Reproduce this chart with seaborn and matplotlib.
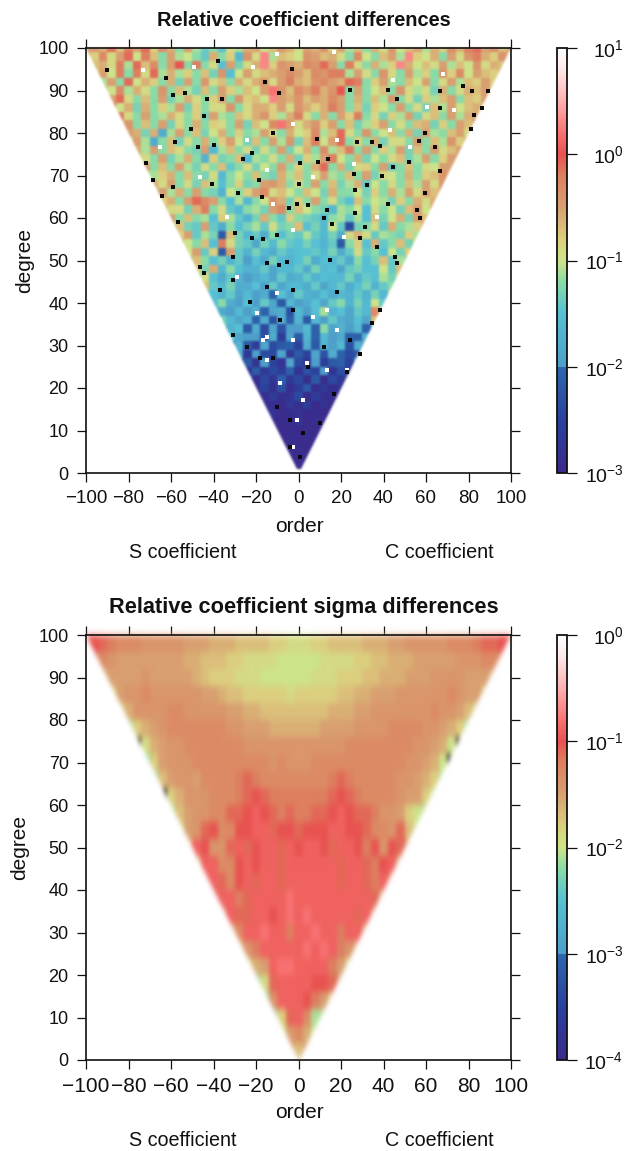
import math
import numpy as np
import pandas as pd
import matplotlib
matplotlib.use("Agg")
import matplotlib.pyplot as plt
from matplotlib.colors import LinearSegmentedColormap, LogNorm
from matplotlib.patches import Polygon
import seaborn as sns

# Values are log10 x 10, read per block of the triangle; the middle of each row is order 0.
TOP_DEGREES = list(range(100, 0, -2))
TOP_LOG10 = [
[-5,-4,-6,-1,-7,-2,-5,-1,-8,-3,-6,-12,-4,-11,-14,-12,-15,-9,-11,-6,-5,-10,-7,-4,-6,-9,-5,-6,-3,-8,-5,-11,-7,-12,-6,-9,-4,-10,-7,-5,-11,-6,-8,-3,-6,-2,-1,-5,-3,-7,-4],
[-6,-8,-3,-9,-5,-1,-10,-2,-7,-12,-5,-11,-10,-12,-14,-6,-12,-8,-16,-4,-9,3,-11,-7,-8,-10,-4,-5,-7,-6,-9,-12,-3,-10,-12,-7,-5,-11,3,-8,-10,-6,-12,-5,-9,-4,-2,-6,-8,-4,-7],
[-7,-6,-9,-2,-11,-1,-7,-3,-12,-5,0,-12,-2,-12,-9,-15,-5,-13,-9,-6,3,-8,-4,-5,-6,-3,-4,-1,-5,-12,-2,-9,-12,-6,-11,-8,3,-6,-10,-7,-9,-5,-11,-7,-10,-4,-9,-6,-7],
[-8,-5,-10,-2,-12,-2,-9,-1,-11,-6,-11,-8,-12,-7,-13,-4,-15,-10,-5,-9,-7,-6,-5,-3,-5,-7,-3,-4,-2,-2,-11,-5,-9,-12,-4,-9,-12,-5,-11,-8,-12,-4,-8,-3,-10,-5,-7,-8,-6],
[-11,-5,-12,-1,-10,-6,-8,-12,-6,-13,-5,-12,-4,-9,-7,-12,-6,-9,-6,-4,-9,-5,-2,-6,-7,-4,-3,-5,-6,-1,-2,-12,-8,-5,-11,-12,-7,-10,-5,-12,-9,-5,-11,-7,-8,-5,-8],
[-6,-10,-3,-11,-6,-9,-12,-4,-12,-7,-11,-13,-7,-12,-5,-8,-11,-7,-10,-5,2,-4,-7,-3,-5,-2,-6,-4,0,-12,-5,-12,-10,-7,-12,-4,-9,-11,-9,-13,-6,-12,-9,-6,-7,-5,-8],
[-5,-1,-9,-12,-7,-12,-5,-13,-11,-6,-9,-12,-8,-5,-12,-4,-8,-7,-10,3,-5,-6,-4,-7,-5,-6,-3,-5,-12,-6,-12,-7,-11,-4,-12,-9,-13,-8,-11,-7,-5,-12,-7,-8,-5],
[-1,-10,-6,-13,-6,-12,-8,-11,-5,-13,-8,-12,-9,-9,-4,-12,-9,-6,-6,-8,-5,-9,-4,-6,-8,-6,-2,-5,-12,-7,-13,-8,-10,-12,-5,-12,-9,-13,-7,-11,-5,-10,-7,-6,-8],
[-2,-9,-12,-5,-12,-11,-6,-9,-12,-8,-13,-5,-11,-12,-7,-9,-6,-4,-8,-11,-6,-2,-9,-12,-6,-12,-5,-8,-2,-12,-9,-13,-8,-11,-5,-13,-9,-7,-12,-5,-11,-6,-5],
[-7,-4,-12,-7,-12,-5,-13,-9,-12,-6,-12,-8,-9,-12,-5,-13,-7,-10,-3,2,-5,-9,-6,-4,-8,-5,-12,-7,-13,-11,-8,-5,-12,-9,-12,-7,-6,-13,-8,-12,-5,-7,-3],
[-5,-6,-13,-6,-18,-11,-5,-12,-7,-13,-10,-6,-12,-8,-12,-11,-5,-9,-12,-6,-10,-8,-3,-11,-7,-1,-9,-12,-4,-12,-10,-7,-12,-6,-13,-5,-11,-12,-7,-5,-9],
[-9,-5,-11,-18,-12,-7,-13,-9,-12,-6,-12,-8,-5,-10,-13,-7,-12,-5,-11,-4,-13,-7,-2,-10,-5,-1,-12,-8,-12,-6,-13,-9,-9,-12,-5,-12,-7,-11,-4,-8,-6],
[-6,-11,-5,-12,-7,-9,-12,-13,-5,-16,-11,-7,-12,-9,-13,-9,-12,-5,-13,-10,-6,-12,-3,-11,-7,-2,-12,-5,-12,-8,-11,-5,-13,-7,-12,-5,-9,-7,-5],
[-7,-9,-12,-5,-13,-11,-6,-12,-17,-8,-13,-12,-7,-16,-11,-12,-9,-12,-6,-13,-8,-11,-5,-2,-10,-12,-6,-13,-10,-12,-9,-7,-13,-11,-5,-12,-8,-5,-4],
[-5,-12,-7,-12,-5,-11,-13,-9,-12,-7,-14,-12,-9,-13,-10,-12,-5,-12,-8,-12,-6,-1,-12,-6,-13,-9,-8,-12,-5,-14,-12,-7,-12,-9,-10,-5,-5],
[-9,-11,-8,-6,-12,-7,-12,-13,-9,-16,-12,-10,-12,-7,-12,-13,-6,-11,-7,-12,-9,-5,-11,-12,-7,-12,-5,-13,-9,-10,-12,-6,-12,-8,-7,-4,-6],
[-6,-9,-5,-12,-9,-13,-7,-11,-15,-12,-8,-13,-12,-5,-4,-6,-12,-9,-12,-5,-12,-7,-13,-11,-6,-14,-10,-12,-9,-12,-7,-11,-5,-9,-4],
[-9,-5,-11,-6,-12,-5,-12,-13,-17,-10,-12,-8,-5,-3,-9,-7,-10,-12,-7,-10,-13,-6,-12,-12,-10,-13,-8,-12,-6,-11,-5,-9,-5,-7,-5],
[-8,-6,-12,-5,-1,-3,-5,-12,-15,-11,-16,-12,-10,-4,-6,-13,-8,-12,-5,-12,-9,-13,-15,-7,-12,-10,-11,-13,-8,-12,-6,-9,-6],
[-6,-9,-9,-13,-6,-2,-12,-9,-14,-16,-12,-11,-13,-5,-3,-12,-7,-10,-12,-13,-16,-11,-12,-10,-15,-9,-12,-10,-13,-7,-5,-10,-6],
[-5,-12,-7,-12,-11,-15,-8,-11,-14,-17,-13,-6,-12,-14,-8,-12,-13,-14,-16,-12,-11,-14,-11,-15,-7,-13,-10,-6,-13,-5,-7],
[-9,-7,-13,-14,-5,-14,-18,-12,-15,-13,-11,-14,-9,-13,-12,-7,-15,-13,-16,-10,-14,-24,-13,-12,-9,-14,-6,-12,-11,-8,-5],
[-8,-5,-14,-11,-13,-22,-7,-13,-16,-14,-18,-12,-15,-13,-14,-11,-14,-16,-13,-18,-9,-6,-9,-14,-11,-12,-13,-8,-11],
[-6,-10,-12,-7,-15,-2,-9,-13,-14,-19,-13,-16,-12,-14,-15,-13,-15,-17,-14,-22,-12,-8,-15,-6,-14,-12,-7,-13,-9],
[-10,-5,-14,-8,-22,-5,-14,-17,-13,-16,-18,-14,-16,-15,-15,-14,-16,-13,-18,-14,-9,-14,-12,-15,-10,-13,-8],
[-12,-7,-12,-15,-13,-17,-14,-20,-15,-18,-13,-16,-17,-15,-13,-18,-15,-16,-14,-18,-12,-15,-13,-7,-14,-11,-13],
[-8,-13,-6,-16,-12,-15,-17,-17,-14,-19,-16,-16,-14,-18,-13,-16,-15,-19,-14,-13,-15,-15,-10,-14,-7],
[-12,-9,-15,-18,-14,-17,-20,-18,-16,-19,-14,-18,-17,-14,-17,-15,-16,-16,-13,-17,-14,-15,-11,-13,-9],
[-7,-14,-16,-13,-18,-18,-15,-20,-14,-19,-16,-16,-18,-14,-19,-16,-14,-18,-15,-13,-17,-14,-12],
[-13,-15,-17,-14,-19,-16,-20,-18,-21,-15,-19,-14,-17,-18,-15,-18,-16,-17,-14,-17,-13,-16,-9],
[-15,-12,-18,-20,-15,-20,-14,-19,-22,-16,-20,-18,-15,-19,-14,-12,-17,-13,-16,-10,-14],
[-14,-18,-20,-16,-20,-17,-21,-19,-18,-23,-16,-20,-15,-11,-17,-15,-19,-14,-16,-3,-9],
[-13,-16,-19,-17,-21,-18,-23,-18,-21,-17,-22,-16,-20,-14,-18,-19,-15,-19,-7],
[-12,-17,-15,-22,-18,-24,-19,-23,-20,-20,-16,-21,-12,-19,-17,-20,-16,-21,-14],
[-15,-19,-20,-20,-23,-18,-26,-19,-22,-17,-21,-16,-20,-18,-21,-21,-17],
[-21,-17,-22,-26,-19,-24,-22,-21,-25,-18,-22,-17,-20,-16,-23,-18,-20],
[-19,-27,-20,-24,-24,-19,-27,-22,-25,-19,-23,-18,-21,-24,-22],
[-25,-22,-28,-20,-25,-28,-19,-24,-27,-20,-26,-22,-21,-25,-20],
[-28,-22,-27,-24,-26,-21,-28,-23,-25,-20,-28,-23,-27],
[-21,-29,-24,-28,-21,-27,-24,-29,-22,-29,-24,-27,-22],
[-29,-25,-29,-23,-29,-26,-22,-29,-27,-29,-28],
[-28,-29,-26,-29,-28,-24,-30,-26,-29,-29,-29],
[-29,-29,-30,-27,-29,-26,-30,-28,-30],
[-30,-28,-30,-29,-28,-30,-29,-30,-30],
[-30,-29,-30,-28,-30,-29,-30],
[-30,-30,-29,-30,-29,-30,-30],
[-30,-29,-30,-29,-30],
[-30,-30,-29,-30,-30],
[-30,-30,-30],
[-30,-30,-30],
]

# Isolated very small coefficients (below the scale, black) and very large ones (above it, white).
SMALL_ORDERS = [-90.2,-37.7,-3.2,-15.7,-9.4,-62.3,-53.4,-43.2,-36.1,-58.9,24.3,42.3,46.3,66.7,77.6,81.6,89.4,66.7,86.3,82.4,81.1,59.6,56.5,64.3,38.4,27.4,34.5,8.6,-11.8,-50.7,-44.7,-58.1,-47.1,-40,-25.9,-22,-71.7,0.8,9.4,14.1,44.7,51.8,66.7,59.6,39.2,25.9,26.7,32.1,0,-18.8,-68.3,-59.2,-64.4,-40.8,-28.3,-17.3,-4.7,-0.8,4.7,13.3,26.7,42.3,55.7,57.2,-56.5,-29.8,-22,-16.5,-10.2,11.8,15.7,31.4,29,36.9,45.5,46.3,-46.3,-30.6,-15,-9.4,-5.5,14.9,-44.7,-36.9,-30.6,-22.8,-14.9,-2.4,18,38.4,34.5,-30.6,-24.3,-18,-11.8,-2.4,-8.6,4.7,22.7,16.5,-10.2,-4,-4,0.8,2.3,10.2,29,24.3,11.8]
SMALL_DEGREES = [94.8,97,95,92,89.3,93,89.3,88,88.1,88.9,90.1,90.1,88.1,89.9,91,90,89.9,86,86,84.2,81,80,78.2,76.6,76.9,77.9,77.9,78.7,80,81,84,77.9,76.8,77.2,74,75.2,73,73,73.2,74,72,73.2,71,65.8,70,70.3,66.6,67.7,68.1,69,69,67.4,65.2,67.9,65.8,65,62.3,63.4,63,61.9,61.1,63.4,62,60,59,56.4,55.2,55,56,59.9,58.7,58,55.2,53.2,50.9,49.3,48.5,50.9,49.3,49,49.7,50.1,47,43,45.4,40.3,43.8,43,42.7,38.3,35.2,32.5,29.7,27,27,38.3,36,25,23.8,18.7,15.6,12.5,6.2,3.8,9.3,11.7,28.1,31.3,29.7]
LARGE_ORDERS = [-10.2,-29,13.3,-15,2.3,-0.8,-2.4,-8.6,22.7,13.3,3.9,-15,-16.5,-2.4,18,-36.9,-19.6,7,16.5,-10.2,-49.4,60.4,-2.4,-24.3,18,43.1,-15,7,25.9,52.5,-33.7,-2.4,21.2,36.9,-11.8,-46.3,-65.1,73,44.7,68.2,-73,-21.2]
LARGE_DEGREES = [42.3,46.2,38.3,32.1,17.2,12.5,6.2,21.1,24.2,24.2,25.8,26.6,31.3,31.3,33.6,36,37.6,36.8,99,98.7,95.6,86.2,82.2,78.3,78.3,80.7,71.3,69.7,72.8,76.8,60.3,57.2,55.6,60.3,63.4,69.7,76.8,85.4,92.4,94,94.8,95.6]

SIGMA_DEGREES = list(range(98, 0, -4))
SIGMA_LOG10 = [
[-10,-10,-11,-12,-13,-13,-13,-14,-14,-14,-14,-14,-15,-15,-15,-16,-16,-16,-17,-17,-17,-17,-18,-18,-19,-19,-19,-18,-18,-17,-17,-17,-17,-16,-16,-16,-15,-15,-14,-14,-14,-14,-14,-13,-13,-13,-12,-11,-11,-10,-10],
[-13,-13,-14,-15,-15,-15,-15,-15,-15,-15,-15,-16,-16,-17,-17,-17,-18,-18,-19,-19,-19,-19,-20,-20,-20,-20,-20,-19,-19,-19,-19,-18,-18,-17,-17,-16,-16,-16,-15,-15,-15,-15,-15,-14,-14,-14,-13,-13,-13],
[-16,-15,-15,-15,-15,-14,-15,-15,-15,-15,-15,-16,-17,-18,-18,-18,-19,-19,-19,-20,-20,-20,-20,-20,-20,-19,-19,-19,-18,-18,-18,-17,-17,-16,-16,-16,-15,-15,-15,-14,-14,-14,-14,-15,-15,-15,-16],
[-18,-15,-14,-14,-13,-14,-14,-14,-14,-14,-14,-15,-15,-16,-17,-17,-18,-18,-18,-18,-18,-19,-18,-18,-18,-18,-18,-17,-17,-16,-16,-15,-15,-15,-14,-14,-14,-14,-14,-14,-13,-14,-15,-15,-17],
[-19,-16,-14,-14,-14,-14,-13,-13,-14,-14,-14,-14,-14,-15,-15,-16,-16,-17,-17,-17,-17,-17,-17,-17,-17,-16,-16,-16,-15,-15,-14,-14,-14,-14,-14,-14,-14,-13,-14,-14,-15,-17,-19],
[-21,-18,-16,-15,-14,-13,-13,-13,-13,-13,-13,-13,-14,-14,-15,-15,-15,-16,-16,-16,-16,-16,-16,-15,-15,-15,-15,-14,-14,-14,-14,-13,-13,-13,-13,-14,-14,-15,-16,-18,-21],
[-45,-19,-16,-15,-14,-14,-13,-13,-13,-13,-13,-13,-13,-14,-14,-14,-14,-14,-14,-14,-14,-14,-14,-14,-14,-13,-13,-13,-13,-13,-13,-13,-13,-14,-14,-15,-16,-20,-45],
[-22,-18,-15,-14,-14,-14,-13,-13,-13,-13,-13,-13,-13,-13,-13,-14,-13,-14,-14,-14,-13,-13,-13,-13,-13,-13,-13,-13,-13,-13,-13,-14,-14,-15,-16,-20,-45],
[-22,-17,-15,-14,-14,-15,-13,-13,-13,-13,-12,-11,-12,-13,-13,-13,-13,-13,-13,-13,-13,-12,-11,-12,-13,-13,-13,-13,-13,-14,-14,-15,-16,-18,-21],
[-45,-18,-16,-14,-14,-14,-13,-13,-13,-12,-11,-10,-11,-12,-12,-12,-12,-12,-12,-12,-11,-10,-11,-12,-13,-13,-13,-13,-14,-15,-15,-18,-20],
[-21,-17,-15,-14,-14,-13,-13,-11,-11,-10,-9,-10,-11,-12,-11,-12,-12,-11,-11,-10,-9,-10,-11,-11,-12,-14,-14,-15,-18,-20,-21],
[-19,-15,-14,-11,-10,-13,-13,-10,-10,-9,-9,-11,-10,-10,-11,-10,-10,-10,-9,-9,-10,-10,-11,-13,-13,-14,-11,-17,-20],
[-17,-9,-10,-14,-14,-11,-9,-11,-10,-9,-9,-11,-9,-10,-9,-9,-10,-11,-9,-9,-10,-12,-10,-14,-10,-11,-14],
[-16,-9,-9,-13,-13,-10,-9,-10,-9,-9,-11,-9,-9,-9,-9,-9,-9,-11,-9,-9,-11,-12,-10,-9,-16],
[-9,-9,-11,-13,-10,-9,-11,-9,-9,-11,-9,-9,-9,-9,-9,-9,-11,-9,-9,-11,-12,-9,-13],
[-11,-9,-9,-12,-11,-9,-9,-9,-9,-8,-9,-9,-9,-9,-9,-9,-9,-9,-9,-11,-16],
[-15,-9,-11,-11,-9,-9,-10,-9,-8,-9,-8,-9,-9,-9,-9,-9,-11,-9,-13],
[-16,-13,-9,-9,-8,-9,-9,-12,-9,-9,-8,-9,-9,-12,-9,-9,-15],
[-17,-14,-12,-9,-9,-9,-9,-9,-8,-9,-8,-9,-12,-14,-16],
[-20,-18,-16,-15,-9,-8,-8,-9,-9,-9,-9,-12,-15,-18,-19],
[-22,-22,-19,-11,-9,-9,-9,-9,-10,-10,-11,-15,-20],
[-23,-22,-14,-9,-9,-9,-10,-12,-15,-18,-20],
[-22,-22,-18,-11,-9,-13,-21,-21,-9],
[-20,-20,-15,-13,-16,-20,-9],
[-14,-17,-14],
]

ORDER_TICKS = [-100, -80, -60, -40, -20, 0, 20, 40, 60, 80, 100]
DEGREE_TICKS = list(range(0, 101, 10))
ORDER_STEP = 4
MAX_ORDER = 100
TITLES = ["Relative coefficient differences", "Relative coefficient sigma differences"]
CBAR_EXPONENTS = [[-3, -2, -1, 0, 1], [-4, -3, -2, -1, 0]]

sns.set_theme(style="ticks", rc={"axes.linewidth": 1.1, "mathtext.default": "regular"})
plt.rcParams["font.family"] = ["Liberation Sans", "DejaVu Sans"]

CMAP = LinearSegmentedColormap.from_list("rel", [
    (0.00, "#3a2a8c"), (0.12, "#2a409c"), (0.2499, "#2d68ad"), (0.25, "#4d9fc9"),
    (0.375, "#55c0d4"), (0.45, "#8adba8"), (0.50, "#cde48a"), (0.55, "#dccf7f"),
    (0.625, "#d9a070"), (0.70, "#dd8060"), (0.75, "#e8524f"), (0.80, "#f87272"),
    (0.875, "#ffb0b0"), (0.95, "#ffe8e8"), (1.00, "#ffffff")], N=512)
CMAP.set_under("#000000")
CMAP.set_over("#ffffff")


class Soften:
    """Gives the mesh the soft look of the scanned reference."""
    def __init__(self, sx, sy):
        self.sx, self.sy = sx, sy

    @staticmethod
    def _blur(a, sigma, axis):
        r = int(math.ceil(sigma * 3))
        k = np.exp(-0.5 * (np.arange(-r, r + 1) / sigma) ** 2)
        k /= k.sum()
        return sum(w * np.roll(a, s, axis=axis) for s, w in zip(range(-r, r + 1), k))

    def __call__(self, im, dpi):
        pad = int(math.ceil(max(self.sx, self.sy) * 3)) + 1
        p = np.pad(im, [(pad, pad), (pad, pad), (0, 0)])
        p[..., :3] *= p[..., 3:]
        p = self._blur(self._blur(p, self.sx, 1), self.sy, 0)
        alpha = np.clip(p[..., 3:], 1e-6, None)
        p[..., :3] = np.clip(p[..., :3] / alpha, 0, 1)
        return p, -pad, -pad


def to_frame(rows, degrees):
    n = max(len(r) for r in rows)
    cols = [ORDER_STEP * (i - n // 2) for i in range(n)]
    table = np.full((len(rows), n), np.nan)
    for i, r in enumerate(rows):
        left = (n - len(r)) // 2
        table[i, left:left + len(r)] = 10.0 ** (np.array(r) / 10.0)
    return pd.DataFrame(table, index=degrees, columns=cols)


W, H = 637, 1151
fig = plt.figure(figsize=(W / 100, H / 100), dpi=100)


def panel(frame, tops, title, exps, blur, ylab_x, title_size, xtick_size, small=None, large=None):
    ax = fig.add_axes([86 / W, 1 - (tops + 425) / H, 425 / W, 425 / H])
    cax = fig.add_axes([557 / W, 1 - (tops + 425) / H, 9.5 / W, 425 / H])
    sns.heatmap(frame, ax=ax, cbar_ax=cax, cmap=CMAP,
                norm=LogNorm(10.0 ** exps[0], 10.0 ** exps[-1]),
                xticklabels=False, yticklabels=False)
    step_d = abs(frame.index[0] - frame.index[1])
    top_d = frame.index[0] + step_d / 2
    x_of = lambda m: (np.asarray(m, dtype=float) - frame.columns[0]) / ORDER_STEP + 0.5
    y_of = lambda d: (top_d - np.asarray(d, dtype=float)) / step_d
    mesh = ax.collections[0]
    tri = Polygon([(x_of(-MAX_ORDER), y_of(100)), (x_of(MAX_ORDER), y_of(100)), (x_of(0), y_of(0))],
                  transform=ax.transData, closed=True)
    mesh.set_clip_path(tri)
    mesh.set_agg_filter(Soften(*blur))

    for pts, col in ((large, "#ffffff"), (small, "#0a0a0a")):
        if pts is not None:
            sns.scatterplot(x=x_of(pts[0]), y=y_of(pts[1]), ax=ax, color=col, s=7, marker="s",
                            linewidth=0, legend=False, zorder=3)

    ax.set_xlim(x_of(-MAX_ORDER), x_of(MAX_ORDER))
    ax.set_ylim(y_of(0), y_of(100))
    ax.set_xlabel("")
    ax.set_ylabel("")

    for s in ax.spines.values():
        s.set_visible(True)
        s.set_linewidth(1.2)
        s.set_color("#111111")
    ax.set_xticks([x_of(m) for m in ORDER_TICKS])
    ax.set_xticklabels([str(m).replace("-", "\u2212") for m in ORDER_TICKS], fontsize=xtick_size, color="#111111")
    ax.set_yticks([y_of(d) for d in DEGREE_TICKS])
    ax.set_yticklabels([str(d) for d in DEGREE_TICKS], fontsize=13, color="#111111")
    ax.tick_params(axis="both", which="major", direction="out", length=6.5, width=0.9, pad=6,
                   top=True, right=True, bottom=True, left=True, color="#111111", rotation=0)

    cb = mesh.colorbar
    cb.outline.set_visible(True)
    cb.outline.set_linewidth(1.3)
    cb.outline.set_edgecolor("#111111")
    cb.set_ticks([10.0 ** e for e in exps])
    cb.set_ticklabels([rf"$\mathregular{{10^{{{e}}}}}$".replace("-", "\u2212") for e in exps])
    cb.ax.minorticks_off()
    cb.ax.tick_params(which="major", direction="out", length=7, width=0.9, pad=34, labelsize=14,
                      color="#111111", labelcolor="#111111")
    for lab in cb.ax.get_yticklabels():
        lab.set_ha("right")

    fig.text(304 / W, 1 - (tops - 28) / H, title, ha="center", va="center", fontsize=title_size,
             fontweight="bold", color="#111111")
    fig.text(299 / W, 1 - (tops + 478) / H, "order", ha="center", va="center", fontsize=15, color="#111111")
    fig.text(183 / W, 1 - (tops + 505) / H, "S coefficient", ha="center", va="center", fontsize=14.2, color="#111111")
    fig.text(439 / W, 1 - (tops + 505) / H, "C coefficient", ha="center", va="center", fontsize=14.2, color="#111111")
    fig.text(ylab_x / W, 1 - (tops + 212) / H, "degree", rotation=90, ha="center", va="center",
             fontsize=15, color="#111111")


panel(to_frame(TOP_LOG10, TOP_DEGREES), 48, TITLES[0], CBAR_EXPONENTS[0], (1.1, 1.1), 25, 14.4, 13.5,
      small=(SMALL_ORDERS, SMALL_DEGREES), large=(LARGE_ORDERS, LARGE_DEGREES))
panel(to_frame(SIGMA_LOG10, SIGMA_DEGREES), 635, TITLES[1], CBAR_EXPONENTS[1], (2.0, 3.5), 20, 15.7, 15)

fig.savefig("out.png", dpi=100)
